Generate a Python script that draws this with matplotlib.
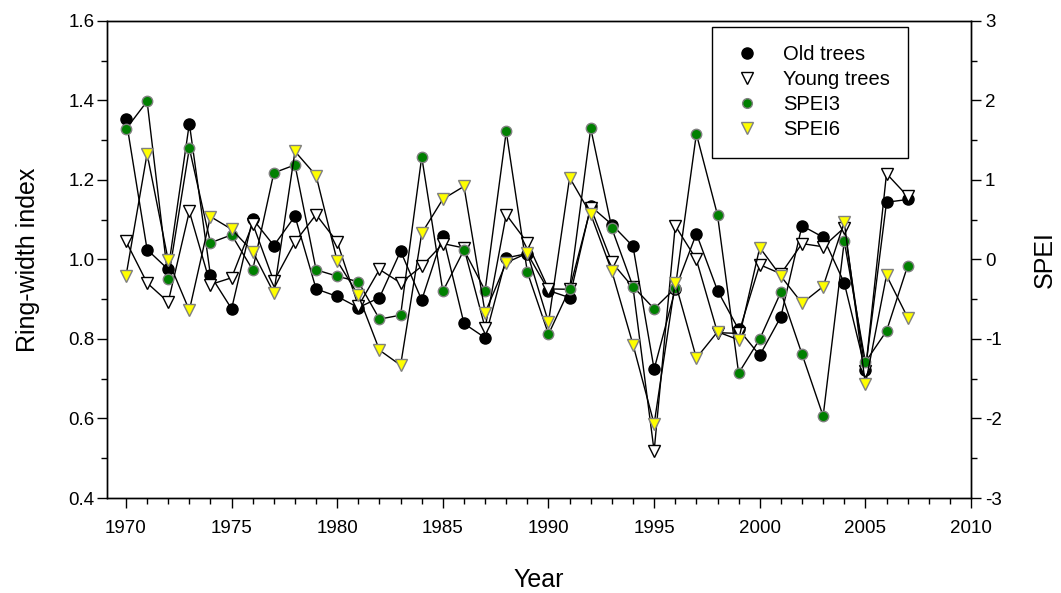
import numpy as np
import matplotlib
matplotlib.use('Agg')
import matplotlib.pyplot as plt
from matplotlib.lines import Line2D
from matplotlib.ticker import MultipleLocator, FormatStrFormatter

plt.rcParams['font.family'] = ['Liberation Sans', 'DejaVu Sans']
plt.rcParams['axes.unicode_minus'] = False

years = np.arange(1970, 2008)

old_trees = [1.354, 1.025, 0.975, 1.342, 0.960, 0.876, 1.102, 1.035, 1.109, 0.926,
             0.907, 0.879, 0.904, 1.021, 0.898, 1.060, 0.839, 0.803, 1.004, 1.015,
             0.922, 0.904, 1.134, 1.088, 1.033, 0.724, 0.925, 1.065, 0.922, 0.824,
             0.759, 0.856, 1.085, 1.056, 0.941, 0.722, 1.144, 1.151]

young_trees = [1.046, 0.941, 0.893, 1.121, 0.937, 0.954, 1.090, 0.945, 1.044, 1.113,
               1.044, 0.883, 0.975, 0.941, 0.983, 1.040, 1.029, 0.828, 1.113, 1.042,
               0.926, 0.925, 1.130, 0.993, 0.930, 0.518, 1.085, 1.000, 0.816, 0.814,
               0.987, 0.964, 1.040, 1.032, 1.080, 0.719, 1.216, 1.159]

spei3 = [1.64, 1.99, -0.25, 1.40, 0.21, 0.31, -0.13, 1.09, 1.19, -0.13,
         -0.21, -0.28, -0.75, -0.70, 1.29, -0.40, 0.12, -0.39, 1.61, -0.16,
         -0.94, -0.37, 1.65, 0.39, -0.34, -0.62, -0.36, 1.58, 0.56, -1.43,
         -1.00, -0.41, -1.19, -1.97, 0.23, -1.29, -0.90, -0.08]

spei6 = [-0.21, 1.33, -0.01, -0.64, 0.54, 0.38, 0.10, -0.42, 1.36, 1.055,
         -0.02, -0.45, -1.14, -1.33, 0.33, 0.76, 0.92, -0.67, -0.04, 0.08,
         -0.79, 1.03, 0.57, -0.15, -1.07, -2.07, -0.29, -1.24, -0.91, -1.01,
         0.15, -0.21, -0.55, -0.34, 0.47, -1.57, -0.20, -0.73]

fig, ax = plt.subplots(figsize=(10.61, 5.93), dpi=100)
fig.subplots_adjust(left=0.1008, right=0.9152, top=0.9646, bottom=0.1602)

ax.plot(years, old_trees, color='black', lw=1, marker='o', ms=8,
        mfc='black', mec='black')
ax.plot(years, young_trees, color='black', lw=1, marker='v', ms=9,
        mfc='white', mec='black', mew=1)

ax.set_xlim(1969.1, 2010)
ax.set_ylim(0.4, 1.6)
ax.xaxis.set_major_locator(MultipleLocator(5))
ax.xaxis.set_minor_locator(MultipleLocator(1))
ax.yaxis.set_major_locator(MultipleLocator(0.2))
ax.yaxis.set_minor_locator(MultipleLocator(0.1))
ax.yaxis.set_major_formatter(FormatStrFormatter('%.1f'))
ax.tick_params(which='major', length=7, width=1, labelsize=13.5, direction='out')
ax.tick_params(which='minor', length=4, width=1, direction='out')
ax.tick_params(axis='x', which='major', pad=9)
ax.tick_params(axis='y', which='major', pad=2)
ax.set_xlabel('Year', fontsize=18, labelpad=22)
ax.set_ylabel('Ring-width index', fontsize=18, labelpad=20)

ax2 = ax.twinx()
ax2.plot(years, spei3, color='black', lw=1, marker='o', ms=7.5,
         mfc='#008000', mec='#808080', mew=1)
ax2.plot(years, spei6, color='black', lw=1, marker='v', ms=9,
         mfc='#ffff00', mec='#808080', mew=1)
ax2.set_ylim(-3, 3)
ax2.yaxis.set_major_locator(MultipleLocator(1))
ax2.yaxis.set_minor_locator(MultipleLocator(0.5))
ax2.tick_params(which='major', length=7, width=1, labelsize=13.5, direction='out', pad=3)
ax2.tick_params(which='minor', length=4, width=1, direction='out')
ax2.set_ylabel('SPEI', fontsize=18, labelpad=22)

for a in (ax, ax2):
    for s in a.spines.values():
        s.set_linewidth(1)

handles = [
    Line2D([], [], ls='none', marker='o', ms=8, mfc='black', mec='black'),
    Line2D([], [], ls='none', marker='v', ms=8, mfc='white', mec='black'),
    Line2D([], [], ls='none', marker='o', ms=7, mfc='#008000', mec='#808080'),
    Line2D([], [], ls='none', marker='v', ms=8, mfc='#ffff00', mec='#808080'),
]
labels = ['Old trees', 'Young trees', 'SPEI3', 'SPEI6']
leg = ax2.legend(handles, labels, loc='upper right', bbox_to_anchor=(0.927, 0.987),
                 borderaxespad=0, fontsize=14.5, frameon=True, fancybox=False,
                 edgecolor='black', framealpha=1, handlelength=1.6,
                 handletextpad=1.0, labelspacing=0.3, borderpad=0.9)
leg.get_frame().set_linewidth(1)

fig.savefig('out.png', dpi=100)
